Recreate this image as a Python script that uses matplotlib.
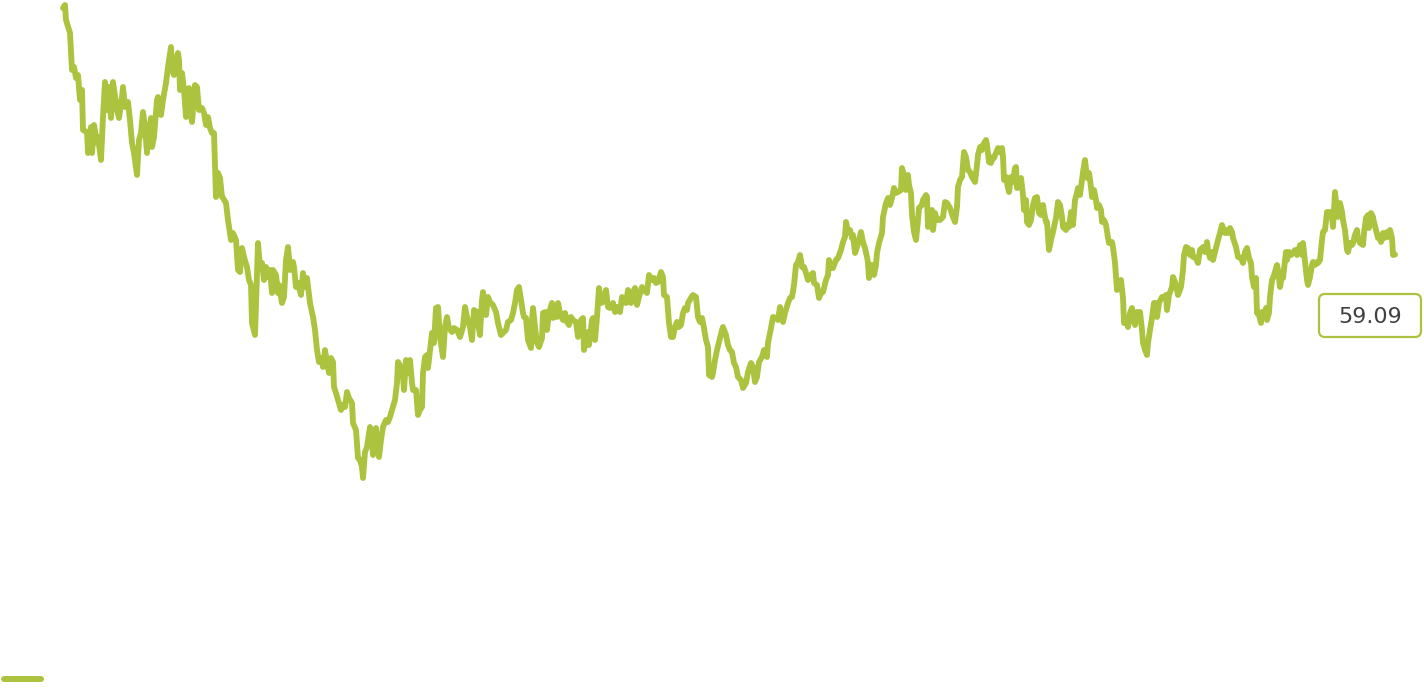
import matplotlib
matplotlib.use("Agg")
import matplotlib.pyplot as plt
from matplotlib.lines import Line2D
from matplotlib.patches import FancyBboxPatch

# trading-day index and closing value
days = [0, 2, 3, 7, 9, 11, 13, 15, 17, 19, 20, 24, 25, 28, 29, 31, 34, 35, 38, 40,
        42, 44, 46, 48, 50, 54, 56, 59, 60, 62, 65, 67, 69, 71, 74, 76, 78, 80, 82, 84,
        85, 88, 89, 91, 94, 95, 98, 100, 103, 105, 108, 109, 111, 113, 115, 116, 117, 119, 121, 123,
        125, 126, 127, 129, 130, 132, 134, 136, 139, 141, 143, 145, 147, 149, 151, 153, 155, 157, 159, 160,
        163, 165, 168, 170, 173, 175, 177, 179, 181, 184, 186, 188, 189, 192, 194, 195, 197, 199, 201, 203,
        205, 207, 209, 210, 213, 215, 216, 219, 221, 223, 225, 227, 230, 231, 233, 235, 238, 240, 242, 244,
        247, 250, 252, 254, 256, 259, 260, 262, 264, 266, 268, 270, 271, 273, 275, 278, 280, 282, 284, 286,
        289, 290, 293, 295, 297, 299, 300, 302, 304, 307, 309, 310, 313, 314, 316, 318, 320, 323, 325, 327,
        329, 332, 334, 335, 338, 340, 341, 343, 345, 347, 349, 350, 353, 355, 357, 359, 360, 362, 364, 365,
        367, 369, 371, 373, 375, 377, 380, 382, 384, 386, 389, 391, 394, 397, 400, 402, 404, 407, 409, 411,
        414, 415, 417, 419, 420, 423, 425, 427, 430, 433, 435, 438, 440, 443, 445, 448, 450, 452, 454, 456,
        458, 460, 461, 463, 465, 468, 469, 470, 472, 474, 476, 479, 480, 483, 484, 486, 489, 490, 492, 494,
        495, 497, 500, 502, 504, 506, 508, 510, 513, 515, 518, 520, 521, 523, 525, 526, 529, 530, 532, 534,
        536, 538, 540, 543, 545, 547, 550, 552, 554, 557, 559, 561, 563, 565, 568, 570, 572, 574, 576, 579,
        581, 584, 586, 589, 591, 593, 595, 598, 600, 601, 604, 606, 608, 610, 612, 614, 616, 618, 620, 622,
        624, 625, 628, 630, 633, 635, 637, 639, 641, 643, 645, 646, 649, 650, 652, 654, 656, 659, 660, 663,
        665, 667, 669, 671, 673, 675, 678, 680, 683, 685, 688, 690, 692, 694, 696, 699, 701, 704, 705, 708,
        710, 713, 715, 717, 720, 722, 725, 727, 729, 731, 733, 735, 737, 739, 741, 743, 745, 748, 750, 751,
        754, 756, 758, 760, 763, 765, 766, 768, 770, 773, 775, 778, 780, 782, 783, 785, 787, 789, 790, 792,
        794, 796, 798, 800, 802, 804, 805, 806, 808, 810, 811, 813, 814, 816, 819, 820, 823, 825, 827, 829,
        831, 833, 835, 838, 839, 841, 843, 845, 846, 848, 849, 851, 853, 855, 856, 859, 860, 863, 864, 865,
        867, 869, 870, 872, 874, 877, 880, 882, 884, 887, 890, 892, 894, 895, 897, 899, 901, 903, 905, 907,
        909, 912, 914, 915, 917, 919, 920, 923, 924, 926, 928, 930, 931, 933, 935, 937, 939, 940, 941, 943,
        945, 946, 948, 950, 952, 953, 954, 956, 958, 960, 961, 963, 964, 966, 968, 970, 972, 974, 976, 978,
        980, 981, 983, 984, 986, 988, 990, 991, 993, 995, 997, 999, 1000, 1003, 1004, 1006, 1008, 1009, 1010, 1012,
        1014, 1015, 1017, 1019, 1020, 1022, 1024, 1026, 1028, 1029, 1031, 1033, 1034, 1036, 1038, 1039, 1041, 1043, 1045, 1046,
        1049, 1050, 1052, 1054, 1056, 1058, 1060, 1061, 1063, 1065, 1067, 1069, 1070, 1072, 1074, 1075, 1077, 1079, 1080, 1082,
        1084, 1085, 1087, 1089, 1091, 1093, 1094, 1096, 1099, 1101, 1103, 1104, 1106, 1109, 1110, 1112, 1114, 1115, 1118, 1120,
        1121, 1123, 1125, 1127, 1129, 1130, 1133, 1135, 1137, 1140, 1142, 1144, 1145, 1147, 1149, 1150, 1153, 1155, 1157, 1159,
        1160, 1162, 1164, 1165, 1167, 1169, 1170, 1173, 1175, 1178, 1180, 1182, 1184, 1186, 1188, 1189, 1191, 1193, 1194, 1196,
        1198, 1199, 1201, 1203, 1204, 1206, 1207, 1209, 1210, 1212, 1214, 1215, 1217, 1219, 1220, 1223, 1224, 1226, 1228, 1230,
        1232, 1234, 1235, 1237, 1239, 1240, 1242, 1244, 1245, 1247, 1249, 1250, 1252, 1254, 1255, 1257, 1259, 1260, 1262, 1264,
        1265, 1267, 1269, 1270, 1272, 1274, 1275, 1277, 1279, 1280, 1282, 1284, 1285, 1287, 1289, 1290, 1292, 1294, 1295, 1297,
        1300, 1301, 1303, 1305, 1306, 1308, 1310, 1311, 1313, 1315, 1316, 1318, 1320, 1321, 1324, 1325, 1327, 1329, 1330, 1332]

prices = [108.4, 109.0, 106.0, 103.4, 96.0, 96.6, 94.4, 95.0, 90.0, 92.0, 84.0, 83.6, 79.4, 84.6, 79.4, 85.0, 81.4, 82.6, 78.0, 86.6,
          93.6, 88.0, 92.6, 86.4, 93.6, 88.0, 86.4, 90.6, 92.6, 88.6, 89.6, 86.0, 81.4, 79.4, 75.0, 82.0, 83.4, 87.6, 84.6, 79.4,
          82.0, 86.4, 80.6, 82.6, 90.0, 90.6, 87.0, 90.0, 93.4, 96.6, 100.6, 96.0, 95.0, 98.0, 99.4, 98.0, 92.0, 95.4, 92.0, 86.6,
          90.6, 92.4, 88.0, 85.6, 88.0, 93.0, 92.6, 88.0, 88.4, 87.4, 85.0, 86.6, 84.4, 83.4, 83.4, 70.6, 75.4, 74.4, 70.6, 70.4,
          69.4, 66.0, 62.0, 63.4, 62.0, 56.0, 55.6, 60.4, 58.6, 56.6, 54.0, 53.0, 45.4, 43.0, 55.4, 61.4, 56.6, 57.4, 54.0, 56.6,
          54.6, 56.0, 51.4, 56.0, 55.0, 51.4, 53.0, 49.4, 50.6, 58.0, 60.6, 56.0, 57.6, 56.6, 52.6, 53.4, 51.0, 55.4, 52.6, 54.4,
          49.4, 46.6, 44.0, 40.0, 37.6, 38.4, 36.6, 40.0, 37.6, 35.4, 38.4, 37.6, 32.6, 31.4, 30.0, 28.0, 29.0, 28.6, 31.6, 30.4,
          29.4, 25.4, 24.0, 18.4, 18.0, 16.6, 14.4, 19.6, 20.6, 24.6, 22.0, 19.0, 24.4, 21.4, 18.6, 22.0, 24.6, 26.0, 25.6, 26.6,
          28.0, 30.0, 33.4, 37.6, 36.6, 34.6, 32.0, 38.0, 35.4, 38.0, 33.4, 32.0, 32.0, 27.0, 28.0, 28.6, 35.4, 38.6, 39.0, 36.4,
          40.0, 43.4, 41.4, 48.4, 48.6, 42.6, 38.6, 44.6, 46.6, 44.4, 43.6, 44.4, 44.0, 42.6, 44.6, 48.6, 46.6, 44.6, 42.0, 48.0,
          47.6, 45.4, 43.0, 50.0, 51.6, 47.0, 50.6, 49.6, 49.0, 47.6, 45.4, 43.0, 43.4, 44.0, 45.6, 46.0, 47.4, 49.4, 52.0, 52.6,
          50.0, 47.4, 46.6, 46.4, 42.0, 40.4, 46.0, 48.4, 44.6, 41.4, 40.6, 42.4, 47.4, 47.6, 44.0, 47.4, 49.4, 46.4, 48.0, 46.6,
          49.4, 47.4, 46.0, 47.4, 45.6, 45.0, 46.6, 46.0, 45.6, 42.6, 46.0, 46.4, 40.0, 42.0, 43.6, 41.0, 46.0, 46.4, 42.0, 46.6,
          52.4, 49.4, 49.6, 52.0, 48.6, 48.4, 49.4, 47.6, 48.6, 47.6, 50.6, 49.6, 49.4, 52.0, 49.4, 51.6, 52.4, 49.0, 50.6, 52.6,
          52.0, 51.4, 55.0, 54.0, 54.4, 53.4, 53.6, 55.6, 54.6, 51.0, 50.6, 45.4, 42.6, 42.6, 44.6, 45.6, 44.6, 45.0, 47.4, 48.4,
          48.0, 49.4, 50.4, 51.0, 50.6, 46.6, 45.6, 46.4, 44.4, 42.0, 40.6, 35.0, 34.6, 35.4, 38.0, 40.0, 41.6, 44.0, 44.6, 43.0,
          41.0, 40.0, 39.6, 37.4, 36.6, 34.6, 34.0, 32.4, 33.4, 35.6, 37.4, 36.6, 33.6, 34.6, 37.6, 38.6, 40.0, 38.6, 41.4, 44.4,
          46.6, 46.4, 46.0, 48.6, 45.6, 47.4, 49.4, 50.4, 50.6, 53.0, 57.0, 57.6, 59.0, 56.6, 56.6, 55.4, 54.0, 55.0, 55.4, 53.4,
          53.0, 50.4, 51.4, 51.6, 54.0, 55.0, 58.0, 56.4, 56.4, 58.0, 58.4, 60.0, 61.6, 62.6, 65.6, 63.6, 64.0, 62.4, 63.0, 59.4,
          60.6, 62.0, 63.6, 61.6, 60.4, 58.6, 57.4, 54.4, 57.0, 57.0, 55.0, 57.0, 59.4, 61.4, 63.4, 66.6, 69.4, 70.4, 69.0, 70.4,
          72.4, 71.4, 71.6, 72.0, 76.4, 75.0, 72.0, 75.0, 73.0, 71.4, 67.0, 63.6, 62.0, 66.0, 68.4, 69.0, 70.0, 71.0, 70.6, 64.6,
          65.6, 68.0, 64.0, 67.4, 66.0, 66.0, 66.6, 69.6, 69.4, 68.4, 66.6, 65.6, 68.6, 72.6, 74.0, 74.6, 79.6, 78.6, 76.0, 75.6,
          74.6, 73.6, 77.0, 79.0, 80.6, 80.0, 81.0, 82.0, 81.0, 77.6, 77.4, 78.6, 78.4, 79.4, 80.4, 79.6, 80.4, 78.6, 74.0, 74.6,
          72.4, 71.6, 74.6, 73.6, 76.4, 76.6, 72.4, 72.6, 74.4, 71.0, 68.0, 70.0, 65.6, 65.0, 66.0, 69.0, 70.4, 70.6, 67.4, 67.0,
          69.0, 67.6, 65.6, 65.6, 60.0, 62.0, 63.6, 64.6, 66.4, 69.6, 69.0, 66.6, 64.6, 64.0, 65.0, 64.6, 67.6, 67.4, 65.0, 70.0,
          71.4, 72.4, 71.0, 74.0, 75.6, 78.0, 74.4, 75.4, 72.6, 70.6, 72.0, 70.0, 68.4, 69.0, 68.0, 65.6, 66.0, 65.0, 62.4, 61.4,
          61.6, 60.6, 57.4, 52.0, 53.4, 54.0, 50.4, 45.4, 46.0, 44.6, 47.4, 48.4, 46.4, 45.0, 47.6, 46.6, 47.6, 44.0, 41.4, 40.0,
          39.0, 41.4, 44.0, 46.4, 49.4, 49.4, 46.6, 49.4, 50.6, 50.4, 51.0, 48.0, 51.0, 52.6, 54.6, 53.6, 52.0, 51.0, 52.6, 56.0,
          59.0, 60.6, 60.4, 59.0, 60.0, 58.6, 58.4, 57.4, 60.0, 60.6, 59.6, 61.6, 60.0, 58.4, 59.6, 58.0, 60.4, 62.0, 63.4, 65.0,
          64.4, 63.4, 64.0, 63.4, 64.4, 63.6, 62.4, 60.6, 58.6, 58.4, 57.4, 59.6, 60.4, 58.4, 57.4, 54.6, 52.6, 54.4, 47.4, 47.0,
          45.4, 47.6, 46.6, 48.4, 46.0, 47.4, 50.6, 54.0, 54.4, 55.6, 57.0, 56.0, 52.6, 55.0, 54.4, 59.6, 58.0, 59.6, 59.0, 59.4,
          60.0, 59.0, 59.6, 61.0, 59.0, 61.4, 57.6, 54.0, 53.0, 54.6, 57.0, 57.6, 57.0, 57.6, 57.4, 58.0, 62.0, 63.6, 64.0, 67.6,
          67.4, 67.6, 66.6, 64.6, 71.6, 67.6, 66.6, 69.4, 67.6, 66.0, 64.0, 60.0, 59.6, 61.4, 61.0, 61.4, 63.0, 64.0, 62.4, 61.4,
          61.0, 63.4, 66.4, 67.0, 64.4, 67.4, 66.6, 65.6, 64.0, 62.4, 62.6, 61.6, 63.4, 62.4, 63.6, 62.6, 64.0, 62.4, 59.0, 59.09]

last_label = "59.09"
green = "#abc33f"

fig = plt.figure(figsize=(14.24, 6.96), dpi=100)
ax = fig.add_axes([0, 0, 1, 1])
ax.plot(days, prices, color=green, lw=4.2, solid_joinstyle="round", solid_capstyle="round")
ax.set_xlim(-63, 1361)
ax.set_ylim(-29.2, 110)
ax.axis("off")

# value tag on the right
tag = FancyBboxPatch((13.19, 3.59), 1.02, 0.43, boxstyle="round,pad=0,rounding_size=0.06",
                     transform=fig.dpi_scale_trans, facecolor="white", edgecolor=green, lw=1.6)
fig.add_artist(tag)
fig.text(13.70, 3.79, last_label, transform=fig.dpi_scale_trans, ha="center", va="center",
         fontsize=16, color="#404040", family="DejaVu Sans")

# legend swatch, bottom left
fig.add_artist(Line2D([0.04, 0.41], [0.17, 0.17], transform=fig.dpi_scale_trans,
                      color=green, lw=4.3, solid_capstyle="round"))

fig.savefig("out.png", dpi=100)
